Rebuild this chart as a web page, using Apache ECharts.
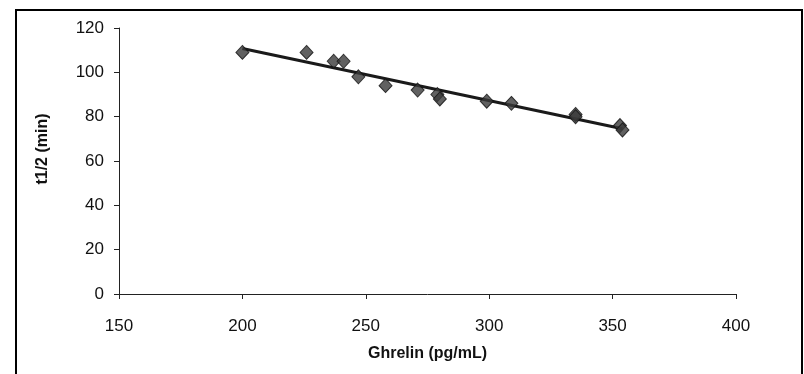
<!DOCTYPE html>
<html>
<head>
<meta charset="utf-8">
<script src="https://cdn.jsdelivr.net/npm/echarts@6/dist/echarts.min.js"></script>
<style>
  html, body { margin: 0; padding: 0; background: #fff; }
  #container1 { width: 804px; height: 374px; }
</style>
</head>
<body>
<div id="container1"></div>
<script>
var ghrelin = [200, 226, 237, 241, 247, 258, 271, 279, 280, 299, 309, 335, 335, 353, 354];
var halfLife = [109, 109, 105, 105, 98, 94, 92, 90, 88, 87, 86, 81, 80, 76, 74];
var xTicks = [150, 200, 250, 300, 350, 400];
var yTicks = [0, 20, 40, 60, 80, 100, 120];

// least squares trend line through the points
function trend() {
  var n = ghrelin.length, sx = 0, sy = 0, sxx = 0, sxy = 0;
  for (var i = 0; i < n; i++) {
    sx += ghrelin[i]; sy += halfLife[i];
    sxx += ghrelin[i] * ghrelin[i]; sxy += ghrelin[i] * halfLife[i];
  }
  var b = (n * sxy - sx * sy) / (n * sxx - sx * sx);
  var a = (sy - b * sx) / n;
  var x0 = Math.min.apply(null, ghrelin), x1 = Math.max.apply(null, ghrelin);
  return [[x0, a + b * x0], [x1, a + b * x1]];
}

var dom = document.getElementById("container1");
var myChart = echarts.init(dom);
var points = ghrelin.map(function (x, i) { return [x, halfLife[i]]; });
var font = 'Liberation Sans, Arial, sans-serif';

var option = {
  animation: false,
  backgroundColor: '#fff',
  graphic: [{
    type: 'rect',
    shape: { x: 16, y: 10, width: 786, height: 380 },
    style: { fill: 'none', stroke: '#000', lineWidth: 2 },
    silent: true
  }],
  grid: { left: 119, right: 68, top: 28, bottom: 80 },
  xAxis: {
    type: 'value',
    min: xTicks[0],
    max: xTicks[xTicks.length - 1],
    interval: 50,
    name: 'Ghrelin (pg/mL)',
    nameLocation: 'middle',
    nameGap: 52,
    nameTextStyle: { fontFamily: font, fontSize: 16, fontWeight: 'bold', color: '#111' },
    axisLine: { lineStyle: { color: '#222', width: 1 } },
    axisTick: { length: 5, lineStyle: { color: '#222' } },
    axisLabel: { margin: 24, fontFamily: font, fontSize: 17, color: '#111' },
    splitLine: { show: false }
  },
  yAxis: {
    type: 'value',
    min: yTicks[0],
    max: yTicks[yTicks.length - 1],
    interval: 20,
    name: 't1/2 (min)',
    nameLocation: 'middle',
    nameGap: 68,
    nameTextStyle: { fontFamily: font, fontSize: 16, fontWeight: 'bold', color: '#111', padding: [0, 0, 0, 24] },
    axisLine: { show: true, lineStyle: { color: '#222', width: 1 } },
    axisTick: { show: true, length: 5, lineStyle: { color: '#222' } },
    axisLabel: { margin: 15, fontFamily: font, fontSize: 17, color: '#111' },
    splitLine: { show: false }
  },
  series: [{
    type: 'line',
    data: trend(),
    symbol: 'none',
    lineStyle: { color: '#1a1a1a', width: 3 },
    z: 2
  }, {
    type: 'scatter',
    data: points,
    symbol: 'diamond',
    symbolSize: [13, 14],
    itemStyle: { color: '#3a3a3a', borderColor: '#111', borderWidth: 1 },
    z: 3
  }]
};

if (option && typeof option === "object") {
  myChart.setOption(option, true);
}
window.addEventListener("resize", () => {
  myChart.resize();
});
</script>
</body>
</html>
